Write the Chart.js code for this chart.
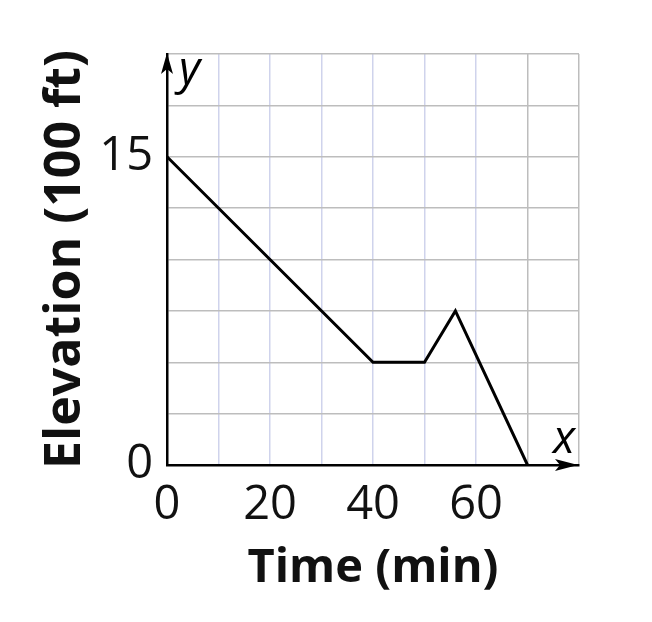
<!DOCTYPE html>
<html>
<head>
<meta charset="utf-8">
<script src="https://cdn.jsdelivr.net/npm/chart.js@4/dist/chart.umd.min.js"></script>
<style>
  html, body { margin: 0; padding: 0; background: #fff; }
  canvas { display: block; }
</style>
</head>
<body>
<canvas id="myChart" width="652" height="622"></canvas>
<script>
// elevation over time
const timeMin = [0, 40, 50, 56, 70]
const elevation = [15, 5, 5, 7.5, 0]

const xTickLabels = [0, 20, 40, 60]
const yTickLabels = [0, 15]

const FONT = '"Open Sans", "DejaVu Sans", sans-serif'

// arrow heads on the axes plus the x / y letters
const axisArrows = {
  id: 'axisArrows',
  afterDraw(chart) {
    const ctx = chart.ctx
    const { x, y } = chart.scales
    const x0 = x.left, yb = y.bottom, xr = x.right - 1, yt = y.top - 1
    ctx.save()
    ctx.fillStyle = '#000'
    // x arrow
    ctx.beginPath()
    ctx.moveTo(xr, yb)
    ctx.lineTo(xr - 23, yb - 6)
    ctx.lineTo(xr - 18, yb)
    ctx.lineTo(xr - 23, yb + 6)
    ctx.closePath()
    ctx.fill()
    // y arrow
    ctx.beginPath()
    ctx.moveTo(x0, yt)
    ctx.lineTo(x0 - 6, yt + 21)
    ctx.lineTo(x0, yt + 16)
    ctx.lineTo(x0 + 6, yt + 21)
    ctx.closePath()
    ctx.fill()

    ctx.font = 'italic 46px ' + FONT
    ctx.textBaseline = 'alphabetic'
    ctx.textAlign = 'left'
    ctx.fillText('y', x0 + 12, yt + 31)
    ctx.textAlign = 'right'
    ctx.fillText('x', xr - 3, yb - 12)
    ctx.restore()
  }
}

const ctx = document.getElementById('myChart').getContext('2d')

new Chart(ctx, {
  type: 'line',
  data: {
    datasets: [{
      data: timeMin.map((t, i) => ({ x: t, y: elevation[i] })),
      borderColor: '#000',
      borderWidth: 3,
      pointRadius: 0,
      tension: 0,
      fill: false
    }]
  },
  options: {
    responsive: false,
    animation: false,
    devicePixelRatio: 1,
    layout: { padding: { left: 0, top: 54, right: 73, bottom: 0 } },
    plugins: { legend: { display: false }, tooltip: { enabled: false } },
    scales: {
      x: {
        type: 'linear',
        min: 0,
        max: 80,
        afterFit: (scale) => { scale.height = 157 },
        ticks: {
          stepSize: 10,
          autoSkip: false,
          maxRotation: 0,
          padding: 12,
          color: '#111',
          font: { family: FONT, size: 47 },
          callback: (v) => xTickLabels.includes(v) ? String(v) : ''
        },
        grid: {
          drawTicks: false,
          lineWidth: 1.5,
          color: (c) => (c.tick && c.tick.value >= 70) ? '#bdbdbd' : '#cfd3ec'
        },
        border: { color: '#000', width: 2.5 },
        title: {
          display: true,
          text: 'Time (min)',
          color: '#111',
          font: { family: FONT, size: 47, weight: 'bold', lineHeight: 1.2 },
          padding: { top: 0, bottom: 25 }
        }
      },
      y: {
        min: 0,
        max: 20,
        afterFit: (scale) => { scale.width = 167 },
        ticks: {
          stepSize: 2.5,
          autoSkip: false,
          padding: 14,
          color: '#111',
          font: { family: FONT, size: 47 },
          callback: (v) => yTickLabels.includes(v) ? String(v) : ''
        },
        grid: {
          drawTicks: false,
          lineWidth: 1.5,
          color: '#bdbdbd'
        },
        border: { color: '#000', width: 2.5 },
        title: {
          display: true,
          text: 'Elevation (100 ft)',
          color: '#111',
          font: { family: FONT, size: 50, weight: 'bold', lineHeight: 1.2 },
          padding: { top: 36, bottom: 0 }
        }
      }
    }
  },
  plugins: [axisArrows]
})
</script>
</body>
</html>
